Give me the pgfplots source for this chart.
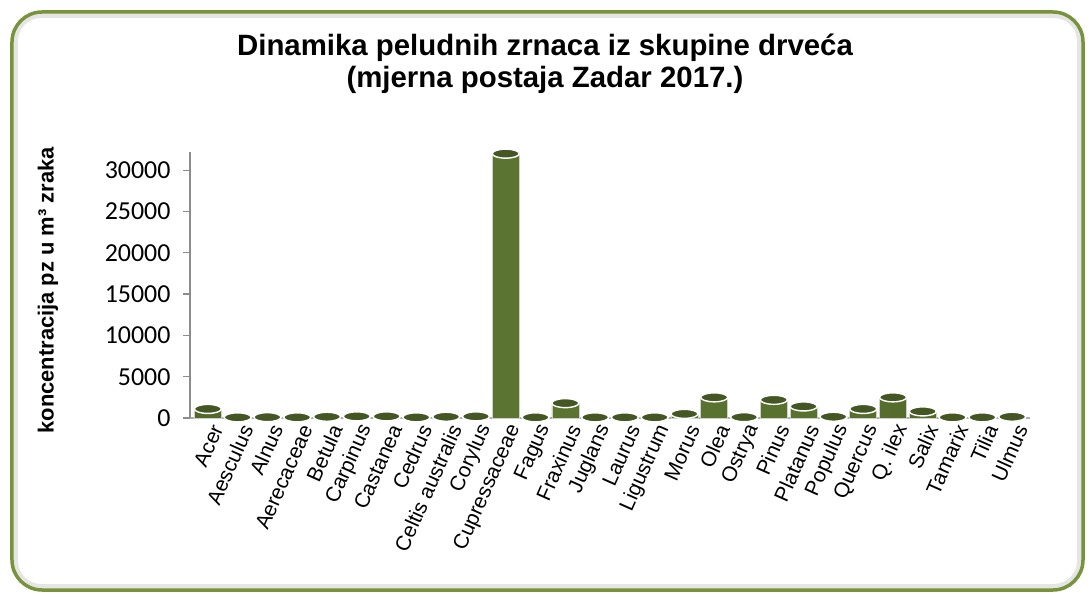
\documentclass[border=0pt]{standalone}
\usepackage{fontspec}
\setmainfont{Liberation Sans}
\newfontfamily\carlito{Carlito}
\usepackage{pgfplots}
\pgfplotsset{compat=1.18}
\usepackage{pgfplotstable}

\definecolor{frameGreen}{HTML}{77933C}
\definecolor{barDark}{HTML}{3C4D1D}
\definecolor{barLight}{HTML}{5C7531}
\definecolor{barTop}{HTML}{435623}
\definecolor{axisGray}{HTML}{8C8C8C}

\pgfdeclarehorizontalshading{cyl}{100bp}{color(0bp)=(barDark); color(38bp)=(barLight); color(62bp)=(barLight!90!barDark); color(100bp)=(barDark)}

\pgfdeclareplotmark{cyltop}{%
  \pgfpathellipse{\pgfpointorigin}{\pgfqpoint{13.5bp}{0pt}}{\pgfqpoint{0pt}{4.5bp}}%
  \pgfusepathqfillstroke}

% pollen concentration per taxon, index = position on x axis
\pgfplotstableread{
idx val
0 1100
1 80
2 100
3 80
4 150
5 200
6 200
7 80
8 150
9 200
10 32000
11 80
12 1800
13 80
14 80
15 80
16 500
17 2500
18 100
19 2200
20 1400
21 150
22 1100
23 2500
24 800
25 80
26 80
27 150
}\pollen

\begin{document}
\begin{tikzpicture}
\useasboundingbox (-190bp,-179bp) rectangle (901bp,418bp);
% frame with soft shadow
\draw[line width=6bp, black!10, rounded corners=26bp] (-175bp,-169bp) rectangle (890bp,403bp);
\draw[line width=3.5bp, frameGreen, rounded corners=30bp] (-178bp,-172bp) rectangle (893bp,406bp);

\begin{axis}[
    at={(0,0)}, anchor=south west,
    scale only axis,
    width=840bp, height=266bp,
    xmin=-0.6, xmax=27.6,
    ymin=0, ymax=32200,
    axis x line*=bottom, axis y line*=left,
    axis line style={axisGray, line width=1.2bp},
    x axis line style={line width=2.5bp, axisGray!70},
    xtick={0,...,27},
    xticklabels={Acer, Aesculus, Alnus, Aerecaceae, Betula, Carpinus, Castanea, Cedrus,
        Celtis australis, Corylus, Cupressaceae, Fagus, Fraxinus, Juglans, Laurus,
        Ligustrum, Morus, Olea, Ostrya, Pinus, Platanus, Populus, Quercus, Q. ilex,
        Salix, Tamarix, Tilia, Ulmus},
    xticklabel style={rotate=66, anchor=east, font=\fontsize{21}{21}\selectfont,
        yshift=-9bp, xshift=4bp, inner sep=1bp},
    x tick style={draw=none},
    ytick={0,5000,...,30000},
    scaled y ticks=false,
    yticklabel style={font=\carlito\fontsize{26}{26}\selectfont, xshift=-9bp,
        /pgf/number format/1000 sep={}, /pgf/number format/assume math mode=true},
    y tick style={axisGray, line width=1.2bp},
    tick align=outside,
    major tick length=7bp,
    ylabel={\textbf{koncentracija pz u m³ zraka}},
    every axis y label/.style={at={(axis description cs:-0.169,0.48)}, rotate=90,
        anchor=center, font=\fontsize{22}{22}\selectfont},
    clip=false,
]
\addplot[ybar, bar width=27bp, draw=white!75!barDark, line width=0.6bp,
    shade, shading=cyl, shading angle=0]
    table[x=idx, y=val] {\pollen};
\addplot[only marks, mark=cyltop,
    mark options={fill=barTop, draw=white, line width=1.4bp}]
    table[x=idx, y=val] {\pollen};
\end{axis}

\node[align=center, font=\bfseries\fontsize{29.5}{32}\selectfont] at (355bp,354bp)
    {Dinamika peludnih zrnaca iz skupine drveća\\(mjerna postaja Zadar 2017.)};
\end{tikzpicture}
\end{document}
